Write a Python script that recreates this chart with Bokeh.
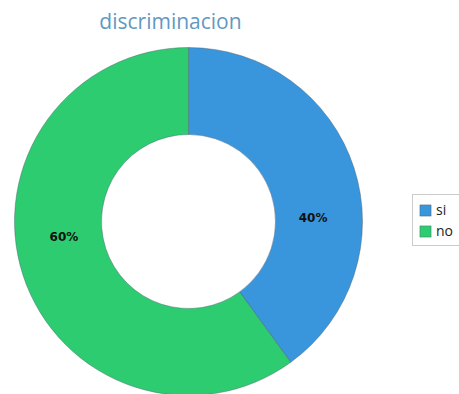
import math
from bokeh.plotting import figure
from bokeh.models import ColumnDataSource, Range1d, Legend, LegendItem
from bokeh.core.properties import value
from bokeh.embed import file_html
from bokeh.resources import INLINE

# data
title_text = "discriminacion"
categories = ["si", "no"]
values = [40, 60]
colors = ["#3a96dc", "#2ecc71"]

W, H = 459, 394
cx, cy = 188, H - 221
r_out, r_in = 174, 87

total = sum(values)
starts, ends, mids, lbls = [], [], [], []
a = math.pi / 2
for v in values:
    span = 2 * math.pi * v / total
    starts.append(a)
    ends.append(a - span)
    mids.append(a - span / 2)
    lbls.append(f"{round(100 * v / total)}%")
    a -= span

src = ColumnDataSource(dict(
    cat=categories, start=starts, end=ends, color=colors,
    lx=[cx + 131 * math.cos(m) for m in mids],
    ly=[cy + 30 * math.sin(m) - 6 for m in mids],
    lbl=lbls,
))

p = figure(width=W, height=H, output_backend="svg", toolbar_location=None,
           x_range=Range1d(0, W), y_range=Range1d(0, H), min_border=0)
p.axis.visible = False
p.grid.visible = False
p.outline_line_color = None
p.background_fill_color = "white"

w = p.annular_wedge(x=cx, y=cy, inner_radius=r_in, outer_radius=r_out,
                    start_angle="start", end_angle="end", direction="clock",
                    fill_color="color", line_color="#445566", line_alpha=0.5,
                    line_width=0.8, source=src)

p.text(x="lx", y="ly", text="lbl", source=src, text_align="center",
       text_baseline="middle", text_font=value("DejaVu Sans"),
       text_font_style="bold", text_font_size="12px", text_color="#111111")

p.text(x=[170], y=[H - 20], text=[title_text], text_align="center",
       text_baseline="middle", text_font=value("Open Sans"),
       text_font_size="21px", text_color="#6199c2")

items = [LegendItem(label=categories[i], renderers=[w], index=i) for i in range(len(categories))]
legend = Legend(items=items, location=(412, 148), orientation="vertical",
                label_text_font="Open Sans", label_text_font_size="14px",
                label_text_color="#222222", glyph_width=14, glyph_height=14,
                label_standoff=4, spacing=2, padding=5, margin=0,
                border_line_color="#999999", border_line_width=1,
                background_fill_color="white", label_height=14)
p.add_layout(legend, "center")

open("out.html", "w").write(file_html(p, INLINE))
